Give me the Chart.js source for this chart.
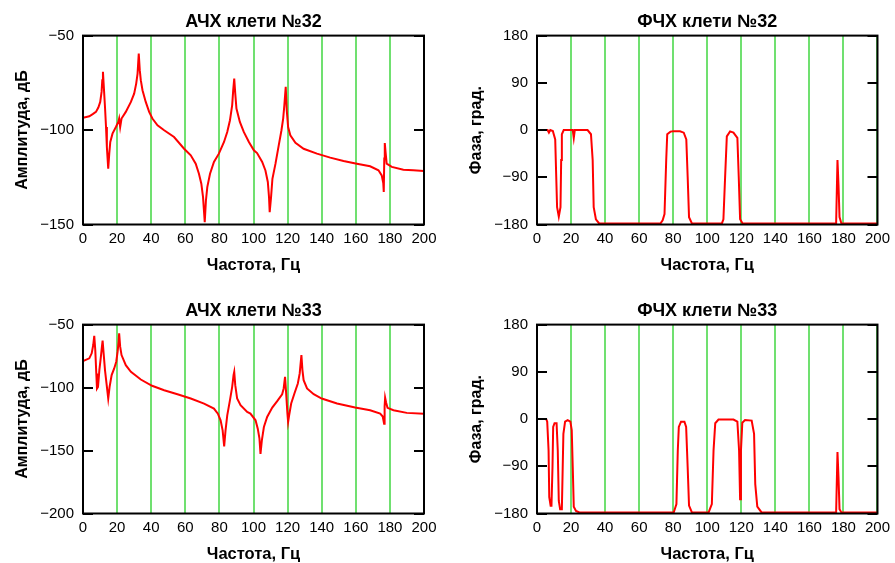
<!DOCTYPE html>
<html><head><meta charset="utf-8">
<script src="https://cdn.jsdelivr.net/npm/chart.js@4/dist/chart.umd.min.js"></script>
<style>
html,body{margin:0;padding:0;background:#fff;overflow:hidden;width:895px;height:563px;}
.c{position:absolute;}
</style></head><body>
<div class="c" style="left:0;top:0;width:447px;height:290px"><canvas id="c1"></canvas></div>
<div class="c" style="left:447px;top:0;width:448px;height:290px"><canvas id="c2"></canvas></div>
<div class="c" style="left:0;top:289px;width:447px;height:290px"><canvas id="c3"></canvas></div>
<div class="c" style="left:447px;top:289px;width:448px;height:290px"><canvas id="c4"></canvas></div>
<script>
// ---- data (frequency in Hz, amplitude in dB, phase in degrees) ----
const xTicks = [0,20,40,60,80,100,120,140,160,180,200];

const ampFreq32 = [0,3.7,5.7,7.6,9,10.1,10.9,11.3,11.7,12.1,12.9,13.5,14,14.8,15.4,16,17.3,19.3,20.7,21.2,21.8,22.6,25.1,28.1,30,31.2,32,32.7,33.3,33.9,34.9,36.8,38.8,40.7,43.7,47.6,53.4,59.3,63.2,66.1,68,69.4,70.4,71.4,72.1,72.9,74.5,76.8,79.7,82.7,84.6,86.2,87.5,88.1,88.7,89.3,90,92,94.3,97.3,100.2,102.1,105.1,107,108.4,109.1,109.5,110.3,111.1,112.9,114.8,116.4,117.4,118.1,118.9,119.5,120.3,121.6,124.6,129.4,137.2,145,152.8,160.6,168.4,173.3,175.2,176.1,176.4,176.7,177,177.5,178.1,181.1,187.9,193.7,200];
const amp32 = [-93.5,-92.7,-91.6,-90.4,-88.1,-85.1,-79.8,-73.6,-69.2,-75.4,-87.8,-98.4,-109,-120.5,-112.5,-106.3,-101.9,-98.4,-95.7,-93.9,-98.4,-93.9,-90.4,-85.1,-80.7,-75.4,-70.1,-59.5,-68.3,-73.6,-78.9,-85.1,-90.4,-93.9,-97.5,-100.1,-103.7,-109.9,-113.4,-117.8,-123.1,-128.4,-135.5,-148.8,-137.3,-130.2,-123.1,-116.9,-112.5,-106.3,-101,-94.8,-86.8,-78.9,-72.7,-80.7,-88.6,-95.7,-101,-106.3,-110.7,-112.2,-116.9,-121.4,-127.5,-135.5,-143.5,-135.5,-125.8,-117.8,-108.1,-100.1,-93.9,-86.8,-77.1,-89.5,-98.4,-102.8,-106.7,-109.9,-112.5,-114.6,-116.4,-117.8,-119.2,-121.3,-124,-128,-132.8,-115,-106.9,-112,-117.8,-119.5,-121,-121.3,-121.7];

const phaseFreq32 = [0,6.2,7,7.8,9.3,10.7,11.3,11.8,12.8,13.8,14.2,14.6,15.7,21,21.6,22.2,29.7,31.7,32.7,33.3,34.6,36.5,72.5,73.8,74.9,75.9,76.5,78.4,80.3,84,86.2,87.7,88.5,89.3,91,108.6,109.5,110.5,111.5,113.4,115.4,117.7,118.5,119.3,120.8,175.7,176.5,177.1,177.7,178.8,200];
const phase32 = [0,0,-5,0,-2,-18,-89,-147,-165,-147,-57,-8,0,0,-15,0,0,-8,-57,-147,-170,-178,-178,-172,-160,-57,-8,-3,-2.5,-2.5,-5,-18,-89,-166,-178,-178,-170,-89,-12,-2.5,-5,-15,-89,-170,-178,-178,-57,-105,-166,-178,-178];

const ampFreq33 = [0,3.7,5.1,6,6.6,7.2,7.8,8.2,8.8,9.6,10.5,11.1,11.5,12.1,12.9,13.8,14.8,15.6,16.8,18.3,19.5,20.3,20.9,21.2,21.8,22.6,25.1,28.1,33.9,40.5,47.6,55.4,63.2,71,76.8,79.1,80.7,81.9,82.8,83.6,84.6,86.2,87.5,88.3,88.7,89.3,90.4,92.4,96.3,98.2,101.2,102.5,103.5,104.1,104.9,106.1,108,111,113.9,116.8,117.7,118.5,119.1,119.9,120.3,120.9,122.1,124,126,127.1,128.1,128.7,129.4,131.4,135.3,140,149,159.6,168.4,174.3,175.8,176.6,176.9,177.2,177.8,178.6,182.1,189.9,200];
const amp33 = [-79,-76.8,-72.8,-66.2,-59,-70.2,-88.8,-100.7,-99.4,-86.1,-75.5,-67.5,-62.7,-72.8,-86.1,-96.8,-108.7,-99.4,-90.1,-84.8,-79.5,-71.5,-63.5,-56.9,-67.5,-74.2,-82.2,-87.5,-93.6,-98.6,-102.1,-105.3,-108.7,-112.7,-116.7,-120.7,-126,-134,-146.7,-134,-122,-110,-99.4,-90.1,-87.5,-98.1,-108.7,-114,-119.4,-120.7,-126,-132.6,-140.6,-152.6,-142,-131.3,-123.3,-115.9,-110.8,-105.3,-100.7,-91.5,-103.4,-120.7,-127.3,-122,-112.7,-104.7,-96.8,-88.8,-74.2,-86.1,-94.1,-100.7,-105.3,-108.7,-112.7,-115.9,-118,-120.7,-123,-128.7,-115,-108,-112,-116.1,-118,-120.1,-120.7];

const phaseFreq33 = [0,5.4,6,6.8,7.2,8,8.5,9.1,9.5,10.3,11.5,12.2,12.8,13.6,14.6,15.1,15.5,16.5,18,19.6,20.4,21,21.6,22.9,24.9,80.3,81.9,82.7,83.3,84.6,86.6,87.6,88.5,89.3,91,100.8,102.7,103.7,104.7,106.6,115.4,117.7,118.7,119.3,119.8,120.6,122.2,126.1,127.5,128.2,129.4,131.9,175.7,176.5,177.1,177.7,178.8,200];
const phase33 = [0,0,-5,-60,-149,-165,-165,-92,-15,-8,-8,-60,-156,-172,-172,-92,-28,-5,-2,-5,-21,-92,-167,-175,-178,-178,-162,-60,-15,-5,-5,-15,-92,-165,-178,-178,-162,-60,-8,-1,-1,-5,-60,-153,-60,-7,-2,-3,-28,-124,-167,-178,-178,-63,-111,-172,-178,-178];

// ---- drawing ----
const FONT = "'Liberation Sans', Arial, sans-serif";
const GREEN = '#70e070';

const frameTicks = {
  id: 'frameTicks',
  afterDatasetsDraw(chart) {
    const {ctx, chartArea: a, scales: {y}} = chart;
    ctx.save();
    ctx.strokeStyle = '#000';
    ctx.lineWidth = 2;
    y.ticks.forEach(t => {
      const py = Math.round(y.getPixelForValue(t.value));
      ctx.beginPath();
      ctx.moveTo(a.left, py); ctx.lineTo(a.left + 10, py);
      ctx.moveTo(a.right - 10, py); ctx.lineTo(a.right, py);
      ctx.stroke();
    });
    ctx.strokeRect(a.left, a.top, a.right - a.left, a.bottom - a.top);
    ctx.restore();
  }
};

function pts(xs, ys) { return xs.map((x, i) => ({x: x, y: ys[i]})); }
function fmt(v) { return String(v).replace('-', '\u2212'); }

function make(id, title, yTitle, xs, ys, yMin, yMax, yStep, leftW, yTitlePad, rightPad) {
  new Chart(document.getElementById(id), {
    type: 'line',
    data: { datasets: [{ data: pts(xs, ys), borderColor: '#ff0000', borderWidth: 2, pointRadius: 0, tension: 0, fill: false }] },
    options: {
      responsive: true, maintainAspectRatio: false, animation: false,
      layout: { padding: { left: 0, right: rightPad, top: 0, bottom: 0 } },
      plugins: {
        legend: { display: false }, tooltip: { enabled: false },
        title: { display: true, text: title, fullSize: false, color: '#000',
                 font: { family: FONT, size: 18, weight: 'bold' }, padding: { top: 11, bottom: 3 } }
      },
      scales: {
        x: {
          type: 'linear', min: 0, max: 200,
          afterBuildTicks: s => { s.ticks = xTicks.map(v => ({value: v})); },
          ticks: { color: '#000', font: { family: FONT, size: 15 }, padding: 5, maxRotation: 0, autoSkip: false },
          grid: { display: true, drawTicks: false, color: GREEN, lineWidth: 2 },
          border: { display: false },
          title: { display: true, text: 'Частота, Гц', color: '#000', font: { family: FONT, size: 16.5, weight: 'bold' }, padding: { top: 0, bottom: 15 } },
          afterFit: s => { s.height = 65.5; }
        },
        y: {
          min: yMin, max: yMax,
          ticks: { stepSize: yStep, color: '#000', font: { family: FONT, size: 15 }, padding: 9, callback: v => fmt(v) },
          grid: { display: false, drawTicks: false },
          border: { display: false },
          title: { display: true, text: yTitle, color: '#000', font: { family: FONT, size: 16, weight: 'bold' }, padding: { top: yTitlePad, bottom: 0 } },
          afterFit: s => { s.width = leftW; }
        }
      }
    },
    plugins: [frameTicks]
  });
}

make('c1', 'АЧХ клети №32', 'Амплитуда, дБ', ampFreq32, amp32, -150, -50, 50, 83, 13, 23);
make('c2', 'ФЧХ клети №32', 'Фаза, град.', phaseFreq32, phase32, -180, 180, 90, 90, 20, 17);
make('c3', 'АЧХ клети №33', 'Амплитуда, дБ', ampFreq33, amp33, -200, -50, 50, 83, 13, 23);
make('c4', 'ФЧХ клети №33', 'Фаза, град.', phaseFreq33, phase33, -180, 180, 90, 90, 20, 17);
</script>
</body></html>
